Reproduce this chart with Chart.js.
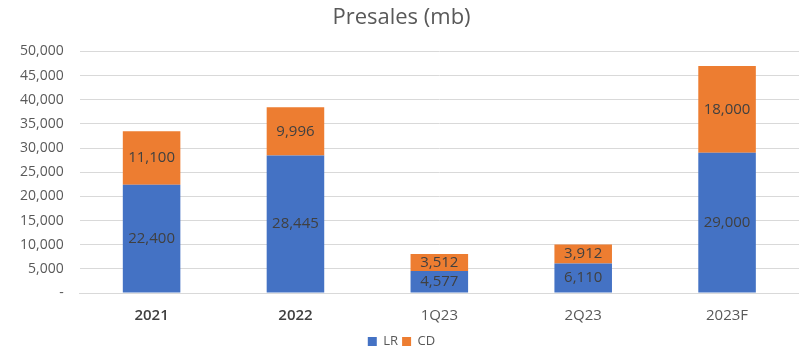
<!DOCTYPE html>
<html>
<head>
<meta charset="utf-8">
<script src="https://cdn.jsdelivr.net/npm/chart.js@4"></script>
<style>
  html, body { margin: 0; padding: 0; background: #fff; }
  #wrap { width: 799px; height: 354px; }
</style>
</head>
<body>
<div id="wrap"><canvas id="presales"></canvas></div>
<script>
const categories = ['2021', '2022', '1Q23', '2Q23', '2023F'];
const lrValues = [22400, 28445, 4577, 6110, 29000];
const cdValues = [11100, 9996, 3512, 3912, 18000];
const yTicks = [0, 5000, 10000, 15000, 20000, 25000, 30000, 35000, 40000, 45000, 50000];

const fontFamily = '"Open Sans", "Noto Sans", sans-serif';

// labels inside each stacked segment
const barLabels = {
  id: 'barLabels',
  afterDatasetsDraw(chart) {
    const ctx = chart.ctx;
    ctx.save();
    ctx.font = '15px ' + fontFamily;
    ctx.fillStyle = '#404040';
    ctx.textAlign = 'center';
    ctx.textBaseline = 'middle';
    chart.data.datasets.forEach((ds, i) => {
      const meta = chart.getDatasetMeta(i);
      meta.data.forEach((bar, j) => {
        const v = ds.data[j];
        const y = (bar.y + bar.base) / 2;
        ctx.fillText(v.toLocaleString('en-US'), bar.x, y);
      });
    });
    ctx.restore();
  }
};

new Chart(document.getElementById('presales'), {
  type: 'bar',
  data: {
    labels: categories,
    datasets: [
      { label: 'LR', data: lrValues, backgroundColor: '#4472C4' },
      { label: 'CD', data: cdValues, backgroundColor: '#ED7D31' }
    ]
  },
  options: {
    responsive: true,
    maintainAspectRatio: false,
    animation: false,
    layout: { padding: { left: 4, right: 0, top: 3, bottom: -4 } },
    datasets: { bar: { categoryPercentage: 1, barPercentage: 0.4 } },
    scales: {
      x: {
        stacked: true,
        grid: { display: false },
        border: { color: '#d9d9d9' },
        ticks: {
          color: (c) => c.index < 2 ? '#404040' : '#595959',
          font: (c) => ({ family: fontFamily, size: 15, weight: c.index < 2 ? '600' : '400' }),
          padding: 6
        }
      },
      y: {
        stacked: true,
        min: 0,
        max: 50000,
        afterBuildTicks: (axis) => { axis.ticks = yTicks.map(v => ({ value: v })); },
        grid: { color: '#d9d9d9', drawTicks: false },
        border: { display: false },
        ticks: {
          color: '#595959',
          font: { family: fontFamily, size: 14 },
          padding: 16,
          callback: (v) => v === 0 ? '-' : v.toLocaleString('en-US')
        }
      }
    },
    plugins: {
      title: {
        display: true,
        text: 'Presales (mb)',
        color: '#595959',
        font: { family: fontFamily, size: 22, weight: '400' },
        padding: { top: 2, bottom: 20 }
      },
      legend: {
        position: 'bottom',
        labels: {
          color: '#595959',
          font: { family: fontFamily, size: 13 },
          boxWidth: 9,
          boxHeight: 9,
          padding: 4
        }
      },
      tooltip: { enabled: false }
    }
  },
  plugins: [barLabels]
});
</script>
</body>
</html>
